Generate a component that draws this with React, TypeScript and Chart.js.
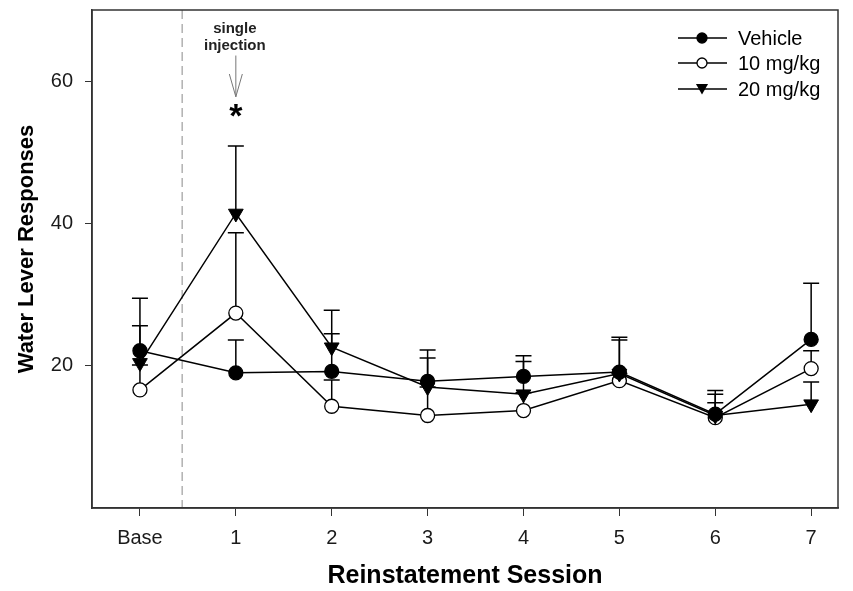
import React, { useEffect, useRef } from 'react';
import { Chart, registerables } from 'chart.js';

Chart.register(...registerables);

const sessions = ['Base', '1', '2', '3', '4', '5', '6', '7'];
const vehicleMean = [22.1, 19.0, 19.2, 17.8, 18.5, 19.1, 13.2, 23.7];
const vehicleErr = [7.4, 4.6, 5.3, 4.4, 2.9, 4.9, 3.3, 7.9];
const mg10Mean = [16.6, 27.4, 14.3, 13.0, 13.7, 17.9, 12.7, 19.6];
const mg10Err = [3.5, 11.3, 3.7, 4.0, 2.5, 1.0, 2.1, 2.5];
const mg20Mean = [20.4, 41.4, 22.6, 17.0, 16.0, 18.9, 13.0, 14.6];
const mg20Err = [5.2, 9.5, 5.2, 4.1, 4.6, 4.7, 3.0, 3.1];
const yTicks = [20, 40, 60];
const seriesNames = ['Vehicle', '10 mg/kg', '20 mg/kg'];
const yTitle = 'Water Lever Responses';
const xTitle = 'Reinstatement Session';

const FONT = "'Liberation Sans', Arial, sans-serif";

function drawMarker(ctx: CanvasRenderingContext2D, style: string, x: number, y: number, r: number) {
  ctx.beginPath();
  if (style === 'tri') {
    const s = Math.sin(Math.PI / 3) * r;
    ctx.moveTo(x - s, y - r / 2);
    ctx.lineTo(x + s, y - r / 2);
    ctx.lineTo(x, y + r);
    ctx.closePath();
    ctx.fillStyle = '#000';
    ctx.fill();
  } else {
    ctx.arc(x, y, r, 0, Math.PI * 2);
    ctx.fillStyle = style === 'open' ? '#fff' : '#000';
    ctx.fill();
    ctx.lineWidth = 1.3;
    ctx.strokeStyle = '#000';
    ctx.stroke();
  }
}

export default function App() {
  const ref = useRef<HTMLCanvasElement>(null);

  useEffect(() => {
    document.body.style.margin = '0';
    const canvas = ref.current;
    if (!canvas) return;
    const errs = [vehicleErr, mg10Err, mg20Err];
    const means = [vehicleMean, mg10Mean, mg20Mean];

    const errorBars = {
      id: 'errorBars',
      beforeDatasetsDraw(chart: any) {
        const ctx = chart.ctx;
        const ys = chart.scales.y;
        ctx.save();
        ctx.strokeStyle = '#000';
        ctx.lineWidth = 1.5;
        means.forEach((m, di) => {
          const meta = chart.getDatasetMeta(di);
          m.forEach((v, i) => {
            const pt = meta.data[i];
            const y0 = ys.getPixelForValue(v);
            const y1 = ys.getPixelForValue(v + errs[di][i]);
            ctx.beginPath();
            ctx.moveTo(pt.x, y0);
            ctx.lineTo(pt.x, y1);
            ctx.moveTo(pt.x - 8, y1);
            ctx.lineTo(pt.x + 8, y1);
            ctx.stroke();
          });
        });
        ctx.restore();
      },
      beforeDraw(chart: any) {
        const ctx = chart.ctx;
        const { top, bottom } = chart.chartArea;
        const xs = chart.scales.x;
        const x = xs.getPixelForValue(0.44);
        ctx.save();
        ctx.strokeStyle = '#8a8a8a';
        ctx.lineWidth = 1;
        ctx.setLineDash([9, 5]);
        ctx.beginPath();
        ctx.moveTo(x, top);
        ctx.lineTo(x, bottom);
        ctx.stroke();
        ctx.restore();
      },
      afterDraw(chart: any) {
        const ctx = chart.ctx;
        const { left, top, right, bottom } = chart.chartArea;
        const xs = chart.scales.x;
        const ys = chart.scales.y;
        ctx.save();
        // frame
        ctx.strokeStyle = '#333';
        ctx.lineWidth = 1.5;
        ctx.strokeRect(left, top, right - left, bottom - top);

        // y title
        ctx.save();
        ctx.translate(27, 249);
        ctx.rotate(-Math.PI / 2);
        ctx.font = `bold 22px ${FONT}`;
        ctx.fillStyle = '#000';
        ctx.textAlign = 'center';
        ctx.textBaseline = 'middle';
        ctx.fillText(yTitle, 0, 0);
        ctx.restore();

        // annotation
        const ax = xs.getPixelForValue(1);
        ctx.fillStyle = '#222';
        ctx.font = `bold 15px ${FONT}`;
        ctx.textAlign = 'center';
        ctx.textBaseline = 'middle';
        ctx.fillText('single', ax - 1, ys.getPixelForValue(67.4));
        ctx.fillText('injection', ax - 1, ys.getPixelForValue(65.0));
        const aTop = ys.getPixelForValue(63.6);
        const aTip = ys.getPixelForValue(57.8);
        const aSide = ys.getPixelForValue(61.0);
        ctx.strokeStyle = '#777';
        ctx.lineWidth = 1;
        ctx.beginPath();
        ctx.moveTo(ax, aTop);
        ctx.lineTo(ax, aTip);
        ctx.moveTo(ax - 6.5, aSide);
        ctx.lineTo(ax, aTip);
        ctx.lineTo(ax + 6.5, aSide);
        ctx.stroke();
        ctx.fillStyle = '#000';
        ctx.font = `bold 34px ${FONT}`;
        ctx.textBaseline = 'alphabetic';
        ctx.fillText('*', ax, ys.getPixelForValue(56.1) + 18);

        // legend
        const styles = ['filled', 'open', 'tri'];
        const rowsY = [38, 63, 89];
        ctx.font = `20px ${FONT}`;
        ctx.textAlign = 'left';
        ctx.textBaseline = 'middle';
        seriesNames.forEach((name, i) => {
          const y = rowsY[i];
          ctx.strokeStyle = '#000';
          ctx.lineWidth = 1.5;
          ctx.beginPath();
          ctx.moveTo(678, y);
          ctx.lineTo(727, y);
          ctx.stroke();
          drawMarker(ctx, styles[i], 702, styles[i] === 'tri' ? y - 1.5 : y, styles[i] === 'tri' ? 7 : 5);
          ctx.fillStyle = '#000';
          ctx.fillText(name, 738, y + 1);
        });
        ctx.restore();
      },
    };

    const mk = (arr: number[]) => arr.map((v, i) => ({ x: i, y: v }));

    const chart = new Chart(canvas, {
      type: 'line',
      data: {
        datasets: [
          {
            label: seriesNames[0],
            data: mk(vehicleMean),
            borderColor: '#000',
            borderWidth: 1.5,
            pointStyle: 'circle',
            pointRadius: 7,
            pointBackgroundColor: '#000',
            pointBorderColor: '#000',
            pointBorderWidth: 1.3,
            order: 0,
          },
          {
            label: seriesNames[1],
            data: mk(mg10Mean),
            borderColor: '#000',
            borderWidth: 1.5,
            pointStyle: 'circle',
            pointRadius: 7,
            pointBackgroundColor: '#fff',
            pointBorderColor: '#000',
            pointBorderWidth: 1.3,
            order: 2,
          },
          {
            label: seriesNames[2],
            data: mk(mg20Mean),
            borderColor: '#000',
            borderWidth: 1.5,
            pointStyle: 'triangle',
            rotation: 180,
            pointRadius: 8.5,
            pointBackgroundColor: '#000',
            pointBorderColor: '#000',
            pointBorderWidth: 1,
            order: 1,
          } as any,
        ],
      },
      options: {
        responsive: false,
        animation: false,
        events: [],
        layout: { padding: { top: 10, right: 15, left: 0, bottom: 0 } },
        plugins: { legend: { display: false }, tooltip: { enabled: false } },
        scales: {
          x: {
            type: 'linear',
            min: -0.5,
            max: 7.28,
            afterBuildTicks: (s: any) => {
              s.ticks = sessions.map((_, i) => ({ value: i }));
            },
            afterFit: (s: any) => {
              s.height = 83;
              s.paddingLeft = 0;
              s.paddingRight = 0;
            },
            ticks: {
              callback: (v: any) => sessions[Math.round(Number(v))],
              font: { family: FONT, size: 20 },
              color: '#1a1a1a',
              padding: 10,
              maxRotation: 0,
              autoSkip: false,
            },
            grid: { drawOnChartArea: false, drawTicks: true, tickLength: 8, color: '#333', lineWidth: 1 },
            border: { display: true, color: '#333', width: 1.5 },
            title: {
              display: true,
              text: xTitle,
              font: { family: FONT, size: 25, weight: 'bold' },
              color: '#000',
              padding: { top: 0, bottom: 0 },
            },
          },
          y: {
            type: 'linear',
            min: 0,
            max: 70,
            afterBuildTicks: (s: any) => {
              s.ticks = yTicks.map((v) => ({ value: v }));
            },
            afterFit: (s: any) => {
              s.width = 92;
              s.paddingTop = 0;
              s.paddingBottom = 0;
            },
            ticks: {
              font: { family: FONT, size: 20 },
              color: '#1a1a1a',
              padding: 12,
            },
            grid: { drawOnChartArea: false, drawTicks: true, tickLength: 7, color: '#333', lineWidth: 1 },
            border: { display: true, color: '#333', width: 1.5 },
            title: { display: false },
          },
        },
      },
      plugins: [errorBars],
    } as any);

    return () => chart.destroy();
  }, []);

  return (
    <div style={{ width: 853, height: 591 }}>
      <canvas ref={ref} width={853} height={591} style={{ display: 'block' }} />
    </div>
  );
}
